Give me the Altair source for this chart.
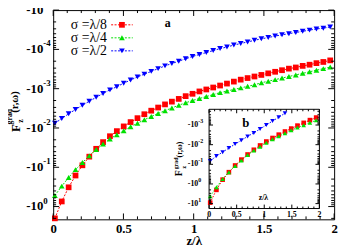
import altair as alt
import pandas as pd

W, H = 286, 213
SERIF = "Liberation Serif"

series_names = ["σ =λ/8", "σ =λ/4", "σ =λ/2"]
series_colors = ["#ff0000", "#00e000", "#0000ff"]
series_shapes = ["square", "triangle-up", "triangle-down"]

# ---- main panel (a): z/lambda and log10|F|
main_z = [0.012, 0.061, 0.110, 0.159, 0.208, 0.257, 0.306, 0.355, 0.404, 0.453,
          0.502, 0.551, 0.600, 0.649, 0.698, 0.747, 0.796, 0.845, 0.894, 0.943,
          0.992, 1.041, 1.090, 1.139, 1.188, 1.237, 1.286, 1.335, 1.384, 1.433,
          1.482, 1.531, 1.580, 1.629, 1.678, 1.727, 1.776, 1.825, 1.874, 1.923, 1.972]
main_log_red = [0.30, -0.13, -0.49, -0.79, -1.05, -1.27, -1.47, -1.64, -1.79, -1.92,
                -2.04, -2.15, -2.25, -2.35, -2.44, -2.52, -2.60, -2.67, -2.74, -2.81,
                -2.87, -2.93, -2.98, -3.03, -3.08, -3.13, -3.18, -3.23, -3.27, -3.31,
                -3.35, -3.39, -3.43, -3.47, -3.51, -3.54, -3.58, -3.61, -3.65, -3.68, -3.72]
main_log_green = [-0.28, -0.52, -0.74, -0.94, -1.12, -1.29, -1.45, -1.59, -1.72, -1.83,
                  -1.93, -2.03, -2.12, -2.21, -2.29, -2.37, -2.44, -2.51, -2.58, -2.64,
                  -2.70, -2.75, -2.80, -2.85, -2.90, -2.94, -2.98, -3.02, -3.06, -3.10,
                  -3.15, -3.19, -3.23, -3.27, -3.31, -3.35, -3.39, -3.43, -3.47, -3.51, -3.55]
main_log_blue = [-2.12, -2.24, -2.36, -2.47, -2.58, -2.68, -2.78, -2.88, -2.97, -3.05,
                 -3.14, -3.22, -3.30, -3.37, -3.44, -3.51, -3.58, -3.64, -3.70, -3.76,
                 -3.82, -3.87, -3.92, -3.97, -4.02, -4.06, -4.11, -4.15, -4.19, -4.23,
                 -4.27, -4.30, -4.34, -4.37, -4.40, -4.43, -4.46, -4.49, -4.52, -4.54, -4.57]

# ---- inset panel (b)
inset_z = [0.02, 0.133, 0.246, 0.359, 0.472, 0.585, 0.698, 0.811, 0.924, 1.037,
           1.150, 1.263, 1.376, 1.489, 1.602, 1.715, 1.828, 1.941]
inset_log_red = [0.95, 0.30, -0.22, -0.60, -0.94, -1.24, -1.50, -1.74, -1.96, -2.16,
                 -2.34, -2.51, -2.67, -2.82, -2.97, -3.11, -3.25, -3.38]
inset_log_green = [0.62, 0.17, -0.25, -0.60, -0.92, -1.20, -1.47, -1.70, -1.90, -2.10,
                   -2.27, -2.43, -2.58, -2.73, -2.87, -2.99, -3.12, -3.24]
inset_log_blue = [-1.17, -1.42, -1.62, -1.83, -2.03, -2.22, -2.42, -2.60, -2.80, -3.00,
                  -3.20, -3.40, -3.60]

# ---- axes
main_x_domain = [0, 2]
main_y_domain = [1e-5, 10 ** 0.325]
main_x_major = [0, 0.5, 1, 1.5, 2]
main_x_minor = [0.1, 0.2, 0.3, 0.4, 0.6, 0.7, 0.8, 0.9, 1.1, 1.2, 1.3, 1.4, 1.6, 1.7, 1.8, 1.9]
main_y_major = [1e-5, 1e-4, 1e-3, 1e-2, 1e-1, 1]
main_y_exp = ["-5", "-4", "-3", "-2", "-1", "0"]
main_y_minor = [v for v in (m * 10.0 ** k for k in range(-5, 1) for m in range(2, 10))
                if main_y_domain[0] < v < main_y_domain[1]]

inset_x_domain = [0, 2]
inset_y_domain = [10 ** -3.8, 10 ** 1.25]
inset_x_major = [0, 0.5, 1, 1.5, 2]
inset_x_labels = ["0", "0.5", "1", "1.5", "2"]
inset_x_minor = [0.1, 0.2, 0.3, 0.4, 0.6, 0.7, 0.8, 0.9, 1.1, 1.2, 1.3, 1.4, 1.6, 1.7, 1.8, 1.9]
inset_y_major = [1e-3, 1e-2, 1e-1, 1, 10]
inset_y_exp = ["-3", "-2", "-1", "0", "1"]
inset_y_minor = [v for v in (m * 10.0 ** k for k in range(-4, 2) for m in range(2, 10))
                 if inset_y_domain[0] < v < inset_y_domain[1]]

IX0, IX1, IY0, IY1 = 158.7, 271.0, 101.0, 202.0


def long_frame(z, logs):
    rows = []
    for name, lv in zip(series_names, logs):
        for zz, v in zip(z, lv):
            rows.append({"z": zz, "lv": v, "series": name})
    return pd.DataFrame(rows)


main_df = long_frame(main_z, [main_log_red, main_log_green, main_log_blue])
inset_df = long_frame(inset_z, [inset_log_red, inset_log_green, inset_log_blue])

cs = alt.Scale(domain=series_names, range=series_colors)
ss = alt.Scale(domain=series_names, range=series_shapes)

xs = alt.Scale(domain=main_x_domain, nice=False, zero=False)
ys = alt.Scale(type="log", domain=main_y_domain, range=[0, H], nice=False)
xaxis = alt.Axis(values=main_x_major, format="~g", ticks=False, domain=False, grid=False,
                 labelFont=SERIF, labelFontSize=13, labelFontWeight="bold", labelColor="black",
                 labelPadding=3, labelFlush=False, title="z/λ", titleFont=SERIF,
                 titleFontSize=13, titleFontWeight="bold", titleColor="black", titlePadding=0)

xi = alt.Scale(domain=inset_x_domain, range=[IX0, IX1], nice=False, zero=False)
yi = alt.Scale(type="log", domain=inset_y_domain, range=[IY0, IY1], nice=False)


def X(field, scale, axis):
    return alt.X(field, scale=scale, axis=axis)


def Y(field, scale):
    return alt.Y(field, scale=scale, axis=None)


def series_layers(df, xsc, ysc, xax, size, dash):
    base = alt.Chart(df).transform_calculate(mag="pow(10, datum.lv)")
    line = base.mark_line(strokeWidth=1, strokeDash=dash).encode(
        x=X("z:Q", xsc, xax), y=Y("mag:Q", ysc),
        color=alt.Color("series:N", scale=cs, legend=None))
    pts = base.mark_point(filled=True, size=size, opacity=1).encode(
        x=X("z:Q", xsc, xax), y=Y("mag:Q", ysc),
        color=alt.Color("series:N", scale=cs, legend=None),
        shape=alt.Shape("series:N", scale=ss, legend=None))
    return [line, pts]


def x_ticks(vals, xsc, xax, y0, y1, length):
    d = pd.DataFrame({"t": vals})
    out = []
    for ya, sign in ((y1, -1), (y0, 1)):
        out.append(alt.Chart(d).mark_rule(color="black", strokeWidth=1).encode(
            x=X("t:Q", xsc, xax), y=alt.value(ya), y2=alt.value(ya + sign * length)))
    return out


def y_ticks(vals, ysc, x0, x1, length):
    d = pd.DataFrame({"t": vals})
    out = []
    for xa, sign in ((x0, 1), (x1, -1)):
        out.append(alt.Chart(d).mark_rule(color="black", strokeWidth=1).encode(
            y=Y("t:Q", ysc), x=alt.value(xa), x2=alt.value(xa + sign * length)))
    return out


def text_at(s, x, y, size, weight="bold", angle=0, align="center"):
    return alt.Chart(pd.DataFrame({"s": [s]})).mark_text(
        font=SERIF, fontSize=size, fontWeight=weight, angle=angle, align=align,
        baseline="middle", color="black").encode(
        text="s:N", x=alt.value(x), y=alt.value(y))


# ---------------- main layers
main_layers = series_layers(main_df, xs, ys, xaxis, 34, [2, 1.5])
main_layers += x_ticks(main_x_major, xs, xaxis, 0, H, 6)
main_layers += x_ticks(main_x_minor, xs, xaxis, 0, H, 3)
main_layers += y_ticks(main_y_major, ys, 0, W, 6)
main_layers += y_ticks(main_y_minor, ys, 0, W, 3)

ylab = pd.DataFrame({"t": main_y_major, "e": main_y_exp})
main_layers.append(alt.Chart(ylab).mark_text(
    font=SERIF, fontSize=13, fontWeight="bold", align="right", baseline="middle", color="black"
).encode(y=Y("t:Q", ys), x=alt.value(-10), text=alt.value("-10")))
main_layers.append(alt.Chart(ylab).mark_text(
    font=SERIF, fontSize=9, fontWeight="bold", align="left", baseline="middle", dy=-6, color="black"
).encode(y=Y("t:Q", ys), x=alt.value(-10), text="e:N"))

# y title F_z^grad (r,w)
main_layers += [
    text_at("F", -38, 120, 13, angle=270),
    text_at("grad", -44, 108.5, 8, angle=270),
    text_at("z", -33, 113, 8, angle=270),
    text_at("(r,ω)", -39, 93.5, 11, angle=270),
    text_at("a", 116.5, 13, 12),
]

# legend
for k, name in enumerate(series_names):
    yy = 15 + 13.25 * k
    leg = pd.DataFrame({"label": [name]})
    main_layers.append(alt.Chart(leg).mark_text(
        font=SERIF, fontSize=14, align="left", baseline="middle", color="black"
    ).encode(text="label:N", x=alt.value(18), y=alt.value(yy)))
    main_layers.append(alt.Chart(leg).mark_rule(
        color=series_colors[k], strokeWidth=1, strokeDash=[2, 1.5]
    ).encode(x=alt.value(59), x2=alt.value(81), y=alt.value(yy)))
    main_layers.append(alt.Chart(leg).mark_point(
        shape=series_shapes[k], filled=True, size=34, opacity=1, color=series_colors[k]
    ).encode(x=alt.value(70), y=alt.value(yy)))

main = alt.layer(*main_layers)

# ---------------- inset layers
frame = pd.DataFrame({"x0": [inset_x_domain[0]], "x1": [inset_x_domain[1]],
                      "y0": [inset_y_domain[0]], "y1": [inset_y_domain[1]]})
inset_layers = [alt.Chart(frame).mark_rect(fill="white", stroke="black", strokeWidth=1).encode(
    x=X("x0:Q", xi, None), x2="x1:Q", y=Y("y0:Q", yi), y2="y1:Q")]
inset_layers += series_layers(inset_df, xi, yi, None, 22, [1.5, 1.5])
inset_layers += x_ticks(inset_x_major, xi, None, IY0, IY1, 4)
inset_layers += x_ticks(inset_x_minor, xi, None, IY0, IY1, 2)
inset_layers += y_ticks(inset_y_major, yi, IX0, IX1, 4)
inset_layers += y_ticks(inset_y_minor, yi, IX0, IX1, 2)

iylab = pd.DataFrame({"t": inset_y_major, "e": inset_y_exp})
inset_layers.append(alt.Chart(iylab).mark_text(
    font=SERIF, fontSize=8, fontWeight="bold", align="right", baseline="middle", color="black"
).encode(y=Y("t:Q", yi), x=alt.value(IX0 - 11), text=alt.value("-10")))
inset_layers.append(alt.Chart(iylab).mark_text(
    font=SERIF, fontSize=6, fontWeight="bold", align="left", baseline="middle", dy=-4, color="black"
).encode(y=Y("t:Q", yi), x=alt.value(IX0 - 11), text="e:N"))

ixlab = pd.DataFrame({"t": inset_x_major, "s": inset_x_labels})
inset_layers.append(alt.Chart(ixlab).mark_text(
    font=SERIF, fontSize=8, fontWeight="bold", align="center", baseline="top", color="black"
).encode(x=X("t:Q", xi, None), y=alt.value(IY1 + 3), text="s:N"))

inset_layers += [
    text_at("z/λ", 214, 191, 8),
    text_at("b", 196, 115, 13),
    text_at("F", 128.5, 166, 10, angle=270),
    text_at("grad", 125, 156, 6, angle=270),
    text_at("z", 133, 160, 6, angle=270),
    text_at("(r,ω)", 129, 142, 8, angle=270),
]

inset = alt.layer(*inset_layers)

chart = alt.layer(main, inset).resolve_scale(x="independent", y="independent").properties(
    width=W, height=H,
    autosize=alt.AutoSizeParams(type="none"),
    padding={"left": 46, "top": 0, "right": 8, "bottom": 24},
).configure_view(stroke="black", strokeWidth=1)

chart.save("out.html", embed_options={"renderer": "svg", "actions": False})
